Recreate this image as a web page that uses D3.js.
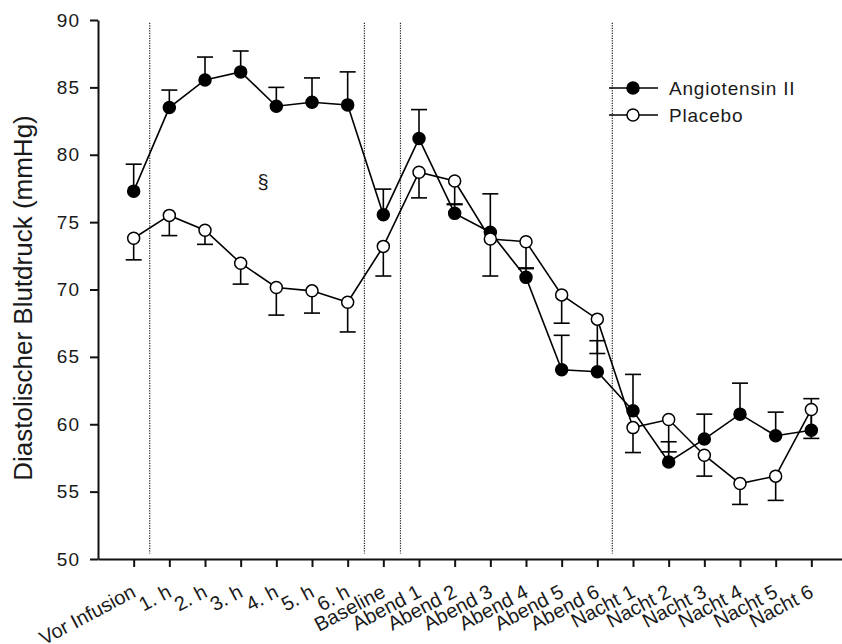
<!DOCTYPE html>
<html>
<head>
<meta charset="utf-8">
<script src="https://cdn.jsdelivr.net/npm/d3@7"></script>
<style>
  body { margin: 0; background: #fff; }
  svg text { font-family: "Liberation Sans", Arial, sans-serif; fill: #1a1a1a; }
</style>
</head>
<body>
<div class="chart"></div>
<script>
var categories = ["Vor Infusion", "1. h", "2. h", "3. h", "4. h", "5. h", "6. h", "Baseline",
	"Abend 1", "Abend 2", "Abend 3", "Abend 4", "Abend 5", "Abend 6",
	"Nacht 1", "Nacht 2", "Nacht 3", "Nacht 4", "Nacht 5", "Nacht 6"];

var angioMean = [77.3, 83.5, 85.55, 86.15, 83.6, 83.9, 83.7, 75.55, 81.2, 75.65,
	74.25, 70.9, 64.05, 63.9, 61.0, 57.2, 58.9, 60.75, 59.15, 59.55];
var angioErr = [2.0, 1.3, 1.7, 1.55, 1.4, 1.8, 2.45, 1.9, 2.15, 0.7,
	2.85, 0.7, 2.55, 2.3, 2.7, 1.5, 1.85, 2.3, 1.75, 2.35];

var placeboMean = [73.8, 75.5, 74.4, 71.95, 70.15, 69.9, 69.05, 73.2, 78.7, 78.05,
	73.75, 73.55, 69.6, 67.8, 59.75, 60.35, 57.7, 55.6, 56.15, 61.1];
var placeboErr = [1.6, 1.5, 1.05, 1.55, 2.05, 1.65, 2.2, 2.2, 1.9, 1.75,
	2.75, 2.0, 2.1, 2.55, 1.85, 2.4, 1.55, 1.55, 1.8, 2.15];

var yTicks = [50, 55, 60, 65, 70, 75, 80, 85, 90];
// separators, in category steps from the first category
var separators = [0.45, 6.47, 7.48, 13.42];

var width = 842, height = 644;
var plotLeft = 98, plotRight = 847, plotTop = 20, plotBottom = 559;

var svg = d3.select(".chart").append("svg")
	.attr("width", width)
	.attr("height", height);

var x = d3.scalePoint()
	.domain(categories)
	.range([plotLeft, plotRight])
	.padding(1);

var y = d3.scaleLinear()
	.domain([50, 90])
	.range([plotBottom, plotTop]);

var step = x.step();

// dotted separators
svg.selectAll("line.sep")
	.data(separators)
	.enter()
	.append("line")
	.attr("class", "sep")
	.attr("x1", function(d) { return x(categories[0]) + d * step; })
	.attr("x2", function(d) { return x(categories[0]) + d * step; })
	.attr("y1", y(89.8))
	.attr("y2", y(50.4))
	.attr("stroke", "#222")
	.attr("stroke-width", 1.2)
	.attr("stroke-dasharray", "1.2,1.3");

// axes
var yAxis = svg.append("g")
	.attr("transform", "translate(" + plotLeft + ",0)")
	.call(d3.axisLeft(y).tickValues(yTicks).tickSize(8).tickPadding(10).tickSizeOuter(0));
yAxis.select(".domain").attr("stroke", "#111").attr("stroke-width", 2);
yAxis.selectAll(".tick line").attr("stroke", "#111").attr("stroke-width", 2);
yAxis.selectAll(".tick text").attr("font-size", 19).attr("fill", "#1a1a1a")
	.attr("letter-spacing", 1)
	.attr("font-family", "Liberation Sans, Arial, sans-serif");

var xAxis = svg.append("g")
	.attr("transform", "translate(0," + plotBottom + ")")
	.call(d3.axisBottom(x).tickSize(8).tickSizeOuter(0));
xAxis.select(".domain").attr("stroke", "#111").attr("stroke-width", 2);
xAxis.selectAll(".tick line").attr("stroke", "#111").attr("stroke-width", 2);
xAxis.selectAll(".tick text")
	.attr("font-size", 20)
	.attr("fill", "#1a1a1a")
	.attr("font-family", "Liberation Sans, Arial, sans-serif")
	.attr("text-anchor", "end")
	.attr("x", 0).attr("y", 0).attr("dy", 0)
	.attr("transform", "translate(3,37) rotate(-28)");

// y title
svg.append("text")
	.attr("transform", "translate(32,298) rotate(-90)")
	.attr("text-anchor", "middle")
	.attr("font-size", 26)
	.text("Diastolischer Blutdruck (mmHg)");

var series = [
	{ name: "Angiotensin II", mean: angioMean, err: angioErr, dir: 1, fill: "#000" },
	{ name: "Placebo", mean: placeboMean, err: placeboErr, dir: -1, fill: "#fff" }
];

var line = d3.line()
	.x(function(d, i) { return x(categories[i]); })
	.y(function(d) { return y(d); });

var group = svg.selectAll("g.series")
	.data(series)
	.enter()
	.append("g")
	.attr("class", "series");

group.append("path")
	.attr("d", function(s) { return line(s.mean); })
	.attr("fill", "none")
	.attr("stroke", "#000")
	.attr("stroke-width", 1.6);

// error bars, one direction per series
group.each(function(s) {
	var g = d3.select(this);
	var bars = g.selectAll("g.err")
		.data(s.mean)
		.enter()
		.append("g")
		.attr("class", "err");
	bars.append("line")
		.attr("x1", function(d, i) { return x(categories[i]); })
		.attr("x2", function(d, i) { return x(categories[i]); })
		.attr("y1", function(d) { return y(d); })
		.attr("y2", function(d, i) { return y(d + s.dir * s.err[i]); })
		.attr("stroke", "#000")
		.attr("stroke-width", 1.6);
	bars.append("line")
		.attr("x1", function(d, i) { return x(categories[i]) - 8; })
		.attr("x2", function(d, i) { return x(categories[i]) + 8; })
		.attr("y1", function(d, i) { return y(d + s.dir * s.err[i]); })
		.attr("y2", function(d, i) { return y(d + s.dir * s.err[i]); })
		.attr("stroke", "#000")
		.attr("stroke-width", 1.6);
});

group.each(function(s) {
	d3.select(this).selectAll("circle")
		.data(s.mean)
		.enter()
		.append("circle")
		.attr("cx", function(d, i) { return x(categories[i]); })
		.attr("cy", function(d) { return y(d); })
		.attr("r", 6)
		.attr("fill", s.fill)
		.attr("stroke", "#000")
		.attr("stroke-width", 1.5);
});

// section mark
svg.append("text")
	.attr("x", 263)
	.attr("y", 189)
	.attr("text-anchor", "middle")
	.attr("font-size", 20)
	.text("§");

// legend
var legend = svg.selectAll("g.legend")
	.data(series)
	.enter()
	.append("g")
	.attr("class", "legend")
	.attr("transform", function(d, i) {
		return "translate(609," + (88 + i * 27) + ")";
	});
legend.append("line")
	.attr("x1", 0).attr("x2", 49)
	.attr("y1", 0).attr("y2", 0)
	.attr("stroke", "#000")
	.attr("stroke-width", 1.6);
legend.append("circle")
	.attr("cx", 24).attr("cy", 0).attr("r", 6)
	.attr("fill", function(d) { return d.fill; })
	.attr("stroke", "#000")
	.attr("stroke-width", 1.5);
legend.append("text")
	.attr("x", 60)
	.attr("y", 7)
	.attr("font-size", 19)
	.attr("letter-spacing", 0.8)
	.text(function(d) { return d.name; });
</script>
</body>
</html>
